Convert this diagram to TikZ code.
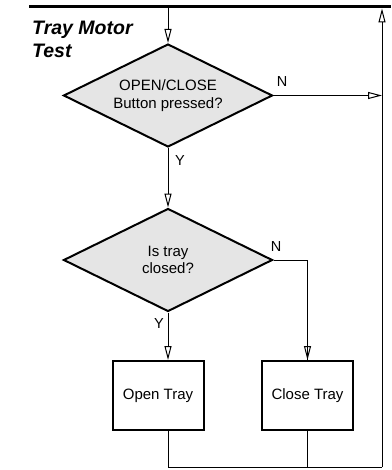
\documentclass[tikz,border=0pt]{standalone}
\usepackage{fontspec}
\setmainfont{Liberation Sans}
\usetikzlibrary{shapes.geometric,arrows.meta}
\begin{document}
\begin{tikzpicture}[x=1pt,y=-1pt,
  lbl/.style={font=\fontsize{14.5}{17}\selectfont, inner sep=0},
  dia/.style={diamond, draw, line width=2pt, fill=black!10, aspect=2.03, minimum width=209pt, minimum height=103pt, inner sep=0pt, align=center, font=\fontsize{15}{17.5}\selectfont},
  box/.style={draw, line width=2pt, minimum width=91pt, minimum height=69pt, inner sep=0pt, font=\fontsize{15}{17}\selectfont},
  conn/.style={line width=1pt},
  arr/.style={line width=1pt, -{Triangle[open,length=14pt,width=7pt]}},
  ttl/.style={font=\fontsize{19.5}{23}\selectfont\bfseries\itshape, inner sep=0, anchor=base west}]
\useasboundingbox (0,0) rectangle (391,470);
% top bar
\coordinate (barL) at (29,6.5);
\coordinate (barR) at (391,6.5);
\draw[line width=3.5pt] (barL) -- (barR);
% title
\node[ttl] (t1) at (32,35) {Tray Motor};
\node[ttl] (t2) at (32,58) {Test};
% decisions
\node[dia] (d1) at (168,95.5) {OPEN/CLOSE\\Button pressed?};
\node[dia] (d2) at (168,260) {Is tray\\closed?};
% actions
\node[box] (open) at (158,395.5) {Open Tray};
\node[box] (close) at (307.5,395.5) {Close Tray};
% right return line
\coordinate (rb) at (382,467);
\coordinate (rt) at (382,8.5);
% labels
\node[lbl] (n1) at (282,82) {N};
\node[lbl] (y1) at (180,161) {Y};
\node[lbl] (n2) at (276,247) {N};
\node[lbl] (y2) at (159,324) {Y};
% connectors
\draw[arr] (d1.north |- barL) -- (d1.north);
\draw[arr] (d1.east) -- (d1.east -| rb);
\draw[arr] (d1.south) -- (d2.north);
\draw[arr] (d2.south) -- (d2.south |- open.north);
\draw[conn] (d2.east) -- (close.north |- d2.east) -- (close.north |- open.north) coordinate (cn);
\draw[arr] (close.north |- d2.east) -- (cn);
\draw[conn] (d2.south |- open.south) -- (d2.south |- rb) -- (rb);
\draw[conn] (close.south) -- (close.south |- rb);
\draw[arr] (rb) -- (rt);
\end{tikzpicture}
\end{document}
